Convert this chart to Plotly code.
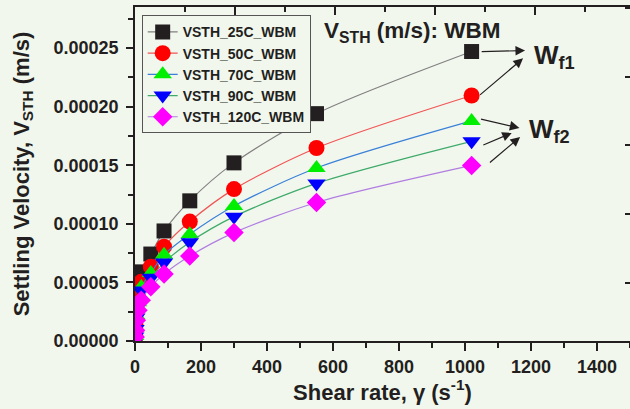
import plotly.graph_objects as go

# ---- data ----
shear_rate = [0.5, 1.5, 4, 9, 19, 48, 88, 166, 300, 550, 1020]
v_25C = [0.56e-5, 1.5e-5, 2.9e-5, 4.4e-5, 5.9e-5, 7.42e-5, 9.39e-5, 1.196e-4, 1.52e-4, 1.94e-4, 2.47e-4]
v_50C = [0.48e-5, 1.3e-5, 2.5e-5, 3.7e-5, 5.05e-5, 6.34e-5, 8.05e-5, 1.019e-4, 1.296e-4, 1.647e-4, 2.095e-4]
v_70C = [0.43e-5, 1.15e-5, 2.2e-5, 3.3e-5, 4.6e-5, 5.81e-5, 7.35e-5, 9.11e-5, 1.152e-4, 1.476e-4, 1.878e-4]
v_90C = [0.38e-5, 1.03e-5, 2.0e-5, 2.95e-5, 4.3e-5, 5.39e-5, 6.69e-5, 8.43e-5, 1.061e-4, 1.345e-4, 1.704e-4]
v_120C = [0.34e-5, 0.92e-5, 1.77e-5, 2.63e-5, 3.48e-5, 4.62e-5, 5.71e-5, 7.25e-5, 9.25e-5, 1.182e-4, 1.498e-4]

series_names = ["VSTH_25C_WBM", "VSTH_50C_WBM", "VSTH_70C_WBM", "VSTH_90C_WBM", "VSTH_120C_WBM"]
series_values = [v_25C, v_50C, v_70C, v_90C, v_120C]
marker_colors = ["#231f20", "#ff0000", "#00ee00", "#0000ff", "#ff00ff"]
line_colors = ["#808080", "#f05555", "#3a80d8", "#3faa6a", "#b07ee0"]
symbols = ["square", "circle", "triangle-up", "triangle-down", "diamond"]
sizes = [15, 16, 16, 16, 15]

x_ticks = [0, 200, 400, 600, 800, 1000, 1200, 1400]
y_ticks = [0.0, 0.00005, 0.00010, 0.00015, 0.00020, 0.00025]

TXT = "#231f20"
BG = "#f2f7ee"
FONT = "Liberation Sans"

fig = go.Figure()
for name, vals, mc, lc, sym, sz in zip(series_names, series_values, marker_colors,
                                       line_colors, symbols, sizes):
    fig.add_trace(go.Scatter(
        x=shear_rate, y=vals, name=name, mode="lines+markers",
        line=dict(color=lc, width=1.2, shape="spline", smoothing=0.8),
        marker=dict(symbol=sym, size=sz, color=mc, line=dict(width=0)),
    ))

# dummy traces for the decorative frame axes (top / right)
fig.add_trace(go.Scatter(x=[], y=[], xaxis="x2", yaxis="y", showlegend=False, hoverinfo="skip"))
fig.add_trace(go.Scatter(x=[], y=[], xaxis="x", yaxis="y2", showlegend=False, hoverinfo="skip"))

axis_font = dict(family=FONT, size=18, color=TXT, weight="bold")

fig.update_layout(
    width=630, height=409,
    margin=dict(l=135, r=0, t=7, b=68),
    paper_bgcolor=BG, plot_bgcolor=BG,
    font=dict(family=FONT, color=TXT),
    showlegend=True,
    legend=dict(
        x=0.0135, y=0.975, xanchor="left", yanchor="top",
        bgcolor=BG, bordercolor="#555555", borderwidth=1,
        font=dict(family=FONT, size=14, color=TXT, weight="bold"),
        itemwidth=30, tracegroupgap=0,
    ),
    xaxis=dict(
        range=[0, 1500], tickvals=x_ticks, ticktext=[str(v) for v in x_ticks],
        ticks="outside", ticklen=8, tickwidth=1.5, tickcolor=TXT,
        minor=dict(dtick=100, tick0=0, ticks="outside", ticklen=5, tickwidth=1.5, tickcolor=TXT),
        showline=True, linecolor=TXT, linewidth=1.8,
        showgrid=False, zeroline=False,
        tickfont=axis_font,
        title=dict(text="Shear rate, γ (s<sup>-1</sup>)", standoff=8,
                   font=dict(family=FONT, size=22, color=TXT, weight="bold")),
    ),
    yaxis=dict(
        range=[0, 0.000285], tickvals=y_ticks, ticktext=[f"{v:.5f}" for v in y_ticks],
        ticks="outside", ticklen=7, tickwidth=1.5, tickcolor=TXT,
        ticklabelstandoff=4,
        minor=dict(dtick=0.000025, tick0=0, ticks="outside", ticklen=5, tickwidth=1.5, tickcolor=TXT),
        showline=True, linecolor=TXT, linewidth=1.8,
        showgrid=False, zeroline=False,
        tickfont=axis_font,
        title=dict(text="Settling Velocity, V<sub>STH</sub> (m/s)", standoff=18,
                   font=dict(family=FONT, size=22, color=TXT, weight="bold")),
    ),
    xaxis2=dict(
        overlaying="x", side="top", anchor="y", range=[0, 9.9],
        tick0=0, dtick=2, ticks="inside", ticklen=8, tickwidth=1.5, tickcolor=TXT,
        minor=dict(dtick=1, ticks="inside", ticklen=5, tickwidth=1.5, tickcolor=TXT),
        showticklabels=False, showline=True, linecolor=TXT, linewidth=1.8,
        showgrid=False, zeroline=False,
    ),
    yaxis2=dict(
        overlaying="y", side="right", anchor="x", range=[0, 4.862],
        tick0=0.847, dtick=1, ticks="inside", ticklen=5, tickwidth=1.5, tickcolor=TXT,
        showticklabels=False, showline=False, showgrid=False, zeroline=False,
    ),
)

# title-like annotation inside the plot
fig.add_annotation(
    x=0.56, y=0.925, xref="paper", yref="paper", xanchor="center", yanchor="middle",
    text="V<sub>STH</sub> (m/s): WBM", showarrow=False,
    font=dict(family=FONT, size=22.5, color=TXT, weight="bold"),
)
fig.add_annotation(
    x=1204, y=0.000243, xanchor="left", yanchor="middle",
    text="W<sub>f1</sub>", showarrow=False,
    font=dict(family=FONT, size=26, color=TXT, weight="bold"),
)
fig.add_annotation(
    x=1187, y=0.0001795, xanchor="left", yanchor="middle",
    text="W<sub>f2</sub>", showarrow=False,
    font=dict(family=FONT, size=26, color=TXT, weight="bold"),
)

# arrows: (tail_x, tail_y, head_x, head_y) in data units
arrows = [
    (1046, 2.469e-4, 1182, 2.478e-4),
    (1041, 2.089e-4, 1176, 2.412e-4),
    (1044, 1.896e-4, 1165, 1.818e-4),
    (1051, 1.667e-4, 1142, 1.776e-4),
    (1071, 1.513e-4, 1167, 1.741e-4),
]
for tx, ty, hx, hy in arrows:
    fig.add_annotation(
        x=hx, y=hy, ax=tx, ay=ty, xref="x", yref="y", axref="x", ayref="y",
        text="", showarrow=True, arrowhead=2, arrowsize=1.6, arrowwidth=1.2,
        arrowcolor=TXT, standoff=0, startstandoff=0,
    )

fig.write_html("out.html")
